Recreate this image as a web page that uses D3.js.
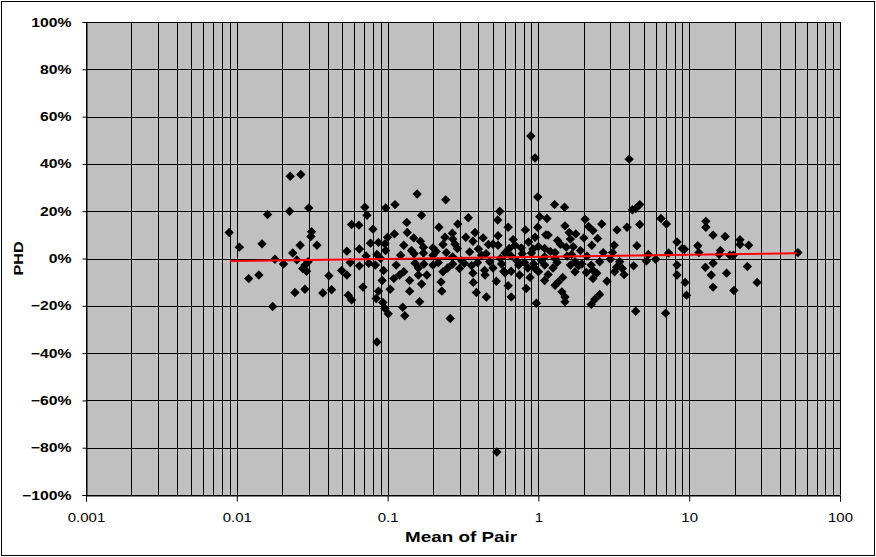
<!DOCTYPE html>
<html><head><meta charset="utf-8">
<script src="https://cdn.jsdelivr.net/npm/d3@7"></script>
<style>
html,body{margin:0;padding:0;background:#fff;}
svg{display:block;}
text{font-family:"Liberation Sans",Arial,sans-serif;}
</style></head>
<body>
<svg id="chart" width="876" height="557"></svg>
<script>
// ---- data ----
const meanOfPair = [
0.0226,0.0266,0.016,0.0224,0.030,0.0089,0.0104,0.0147,0.0313,0.031,0.0263,0.034,0.0235,0.0179,0.0204,0.025,0.0283,0.029,0.0274,0.012,0.014,0.0243,0.0283,0.0372,0.0173,0.0297,
0.157,0.112,0.097,0.0707,0.073,0.168,0.0577,0.0645,0.080,0.134,0.111,0.149,0.165,0.128,0.077,0.087,0.096,0.097,0.0537,0.085,0.072,0.122,0.144,0.173,0.0565,0.065,0.0496,0.0537,0.0408,0.083,0.094,0.114,0.128,0.110,0.092,0.140,0.160,0.0686,0.0425,0.104,0.140,0.087,0.0548,0.0577,0.084,0.093,0.096,0.126,0.163,0.101,0.130,0.152,0.168,
0.243,0.219,0.292,0.343,0.269,0.27,0.233,0.2,0.368,0.43,0.554,0.537,0.54,0.54,0.466,0.29,0.35,0.2,0.173,0.245,0.42,0.60,0.174,0.2,0.217,0.27,0.323,0.395,0.475,0.57,0.182,0.233,0.368,0.443,0.526,0.59,0.226,0.229,0.37,0.388,0.452,0.26,0.3,0.27,
0.99,1.28,1.49,1.02,1.14,0.99,0.82,0.63,1.5,1.16,2.04,2.15,1.77,1.63,2.0,1.34,0.86,0.70,0.77,1.0,1.1,1.53,0.64,2.26,1.9,1.29,0.90,0.66,1.66,0.74,0.81,0.93,1.1,1.33,1.63,1.94,2.24,0.66,0.75,1.0,1.16,1.75,2.08,1.1,0.83,0.63,1.29,1.43,0.66,0.97,1.5,2.24,1.5,1.29,1.1,0.95,1.75,
0.53,0.89,0.95,0.085,
4.42,4.7,4.2,6.5,7.06,2.63,3.32,3.87,4.7,2.47,2.3,4.5,8.3,9.0,3.18,2.69,3.1,5.36,6.0,7.3,5.2,2.55,3.0,3.46,3.6,4.28,2.44,2.3,3.2,3.7,2.85,8.3,8.3,9.4,2.55,2.37,4.42,6.98,9.6,3.3,4.0,
12.9,12.9,14.4,17.3,21.7,24.8,21.7,11.4,11.6,16.1,15.8,18.6,19.6,9.3,52.6,12.8,14.4,14.0,17.7,24.3,14.4,19.8,28.2,
0.21,0.25,0.28,0.31,0.33,0.36,0.4,0.45,0.5,0.5,0.56,0.6,0.38,0.24,0.44,
0.68,0.72,0.78,0.85,0.92,1.05,1.12,1.2,1.25,1.4,1.45,1.55,1.7,1.85,2.1,2.3,1.6,0.95,0.88,1.35,
0.09,0.1,0.12,0.135,0.15,0.16,0.075,0.065
];
const phdPercent = [
34.8,35.5,18.6,20,21.4,11,4.8,6.2,11.3,9.3,5.6,5.6,2.3,-0.3,-2.3,-0.6,-2.8,-5.4,-4.2,-8.5,-7,-14.4,-13,-14.6,-20.3,-1.4,
27.3,22.8,21.4,21.7,18.3,18.3,14.4,14.1,12.4,15.2,10.4,8.7,7.3,5.6,6.5,6.8,6.2,3.4,3.1,1.7,1.1,1.4,3.4,4.8,-1.7,-3.1,-5.1,-7,-7.3,-2.8,-5.1,-2.8,-5.6,-8.5,-9.3,-9.3,-7,-12.1,-13.2,-13,-13.8,-13.8,-15.5,-17.5,-16.9,-18.6,-21.1,-20.6,-18.3,-23.4,-24.2,-2,-10.8,
24.8,13.2,14.6,17.2,10.7,8.2,5.9,4.5,7.3,8.7,20,16.3,9.6,5.6,5.9,4.2,2.8,1.4,2.3,2.5,1.4,2.3,-2.3,-2.8,-1.7,-2.3,-2,-1.7,-1.4,-2.3,-7,-5.6,-6.2,-7,-9.6,-5.4,-9.9,-13.8,-10.1,-14.4,-16.3,-25.4,-4.2,0.7,
26,22.8,21.7,17.7,16.9,13.2,12.1,13.2,13.8,9.9,16.6,13.5,10.4,8.2,8.7,7.6,7,5.6,4.5,5.1,4.2,4.8,4.2,5.6,3.4,2.5,2.3,1.1,1.7,-2.8,-1.7,-2.3,-2.8,-1.7,-2.8,-2.3,-2.8,-5.4,-7,-5.6,-6.8,-5.6,-5.9,-9.3,-12.7,-11.5,-11.3,-14.1,-16.3,-18.9,-18.3,-19.4,-16.3,0,0.7,-4.2,-1.4,
-81.8,51.8,42.5,-35.3,
21.1,22.8,20.6,16.9,14.6,14.6,12.1,13.2,14.4,8.5,11.8,5.4,7,4.2,5.6,2.5,2.5,1.7,-0.3,2.3,-1.1,-1.4,-0.3,-1.4,-4.2,-3.1,-6.2,-8.5,-5.6,-6.8,-9.6,-2.8,-7,-10.1,-15.2,-17.2,-22.3,-23.1,-15.5,-3.7,42,
15.7,13.2,9.9,9.3,7.9,5.6,5.9,5.4,2.5,3.4,1.7,1.4,1.4,3.9,2.5,-3.7,-2,-7,-6.2,-3.4,-12.1,-13.5,-10.1,
3,-4,6,-1,9,-3,4,2,6,-4,0,-6,11,9,-5,
8,-1,2,-4,4,-1,10,3,-4,6,-8,1,5,-3,1,-5,11,9,-8,-10,
0,9,-7,11,2,-4,-2,4
];
// logarithmic trend line end points
const trendX = [0.009, 52];
const trendPercent = [-1.06, 2.2];
const xTickValues = [0.001, 0.01, 0.1, 1, 10, 100];
const xTickLabels = ["0.001", "0.01", "0.1", "1", "10", "100"];
const yTickValues = [-1, -0.8, -0.6, -0.4, -0.2, 0, 0.2, 0.4, 0.6, 0.8, 1];
const xTitle = "Mean of Pair";
const yTitle = "PHD";

// ---- layout ----
const W = 876, H = 557;
const L = 86, R = 840, T = 22, B = 495;
const svg = d3.select("#chart");

svg.append("rect").attr("x", 1.5).attr("y", 1.5).attr("width", W - 3).attr("height", H - 3)
  .attr("fill", "#fff").attr("stroke", "#000").attr("stroke-width", 1);

const x = d3.scaleLog().domain([0.001, 100]).range([L, R]);
const y = d3.scaleLinear().domain([-1, 1]).range([B, T]);

svg.append("rect").attr("x", L).attr("y", T).attr("width", R - L).attr("height", B - T)
  .attr("fill", "#C0C0C0");

// gridlines
const minor = [];
for (let e = -3; e < 2; e++) for (let k = 1; k <= 9; k++) minor.push(k * Math.pow(10, e));
minor.push(100);
const grid = svg.append("g").attr("shape-rendering", "crispEdges").attr("stroke", "#000").attr("stroke-width", 1);
grid.selectAll("line.v").data(minor).join("line").attr("class", "v")
  .attr("x1", d => Math.round(x(d)) + 0.5).attr("x2", d => Math.round(x(d)) + 0.5)
  .attr("y1", T).attr("y2", B);
grid.selectAll("line.h").data(yTickValues).join("line").attr("class", "h")
  .attr("x1", L).attr("x2", R)
  .attr("y1", d => Math.round(y(d)) + 0.5).attr("y2", d => Math.round(y(d)) + 0.5);

// axes
const SY = 1.26;
const yAxis = d3.axisLeft(y).tickValues(yTickValues).tickFormat(d3.format(".0%"))
  .tickSize(4).tickPadding(15 / SY - 4);
const gy = svg.append("g").attr("transform", `translate(${L + 0.5},0)`).call(yAxis);
gy.select(".domain").attr("stroke", "#000");
gy.selectAll(".tick line").attr("stroke", "#000");
gy.selectAll("text").attr("font-size", 12.5).attr("font-weight", "bold").attr("fill", "#000")
  .attr("transform", `scale(${SY},1)`);

const SXT = 1.2;
const xAxis = d3.axisBottom(x).tickValues(xTickValues).tickFormat((d, i) => xTickLabels[i])
  .tickSize(6).tickPadding(12);
const gx = svg.append("g").attr("transform", `translate(0,${B + 0.5})`).call(xAxis);
gx.select(".domain").attr("stroke", "#000");
gx.selectAll(".tick line").attr("stroke", "#000");
gx.selectAll("text").attr("font-size", 12.5).attr("fill", "#000")
  .attr("transform", `scale(${SXT},1)`);

// titles
svg.append("text").attr("transform", `translate(${(L + R) / 2 - 2},542) scale(1.3,1)`)
  .attr("text-anchor", "middle").attr("font-size", 14.5).attr("font-weight", "bold").text(xTitle);
svg.append("text").attr("transform", `translate(23,${(T + B) / 2}) rotate(-90) scale(1.2,1)`)
  .attr("text-anchor", "middle").attr("font-size", 13.5).attr("font-weight", "bold").text(yTitle);

// points
const pts = meanOfPair.map((v, i) => [v, phdPercent[i] / 100]);
const diamond = "M0,-4.7L4.7,0L0,4.7L-4.7,0Z";
svg.append("g").selectAll("path").data(pts).join("path")
  .attr("d", diamond)
  .attr("transform", d => `translate(${x(d[0])},${y(d[1])})`)
  .attr("fill", "#000");

// trend line
const line = d3.line().x(d => x(d[0])).y(d => y(d[1]));
svg.append("path").datum(trendX.map((v, i) => [v, trendPercent[i] / 100]))
  .attr("d", line).attr("fill", "none").attr("stroke", "#FF0000").attr("stroke-width", 2);
</script>
</body></html>
